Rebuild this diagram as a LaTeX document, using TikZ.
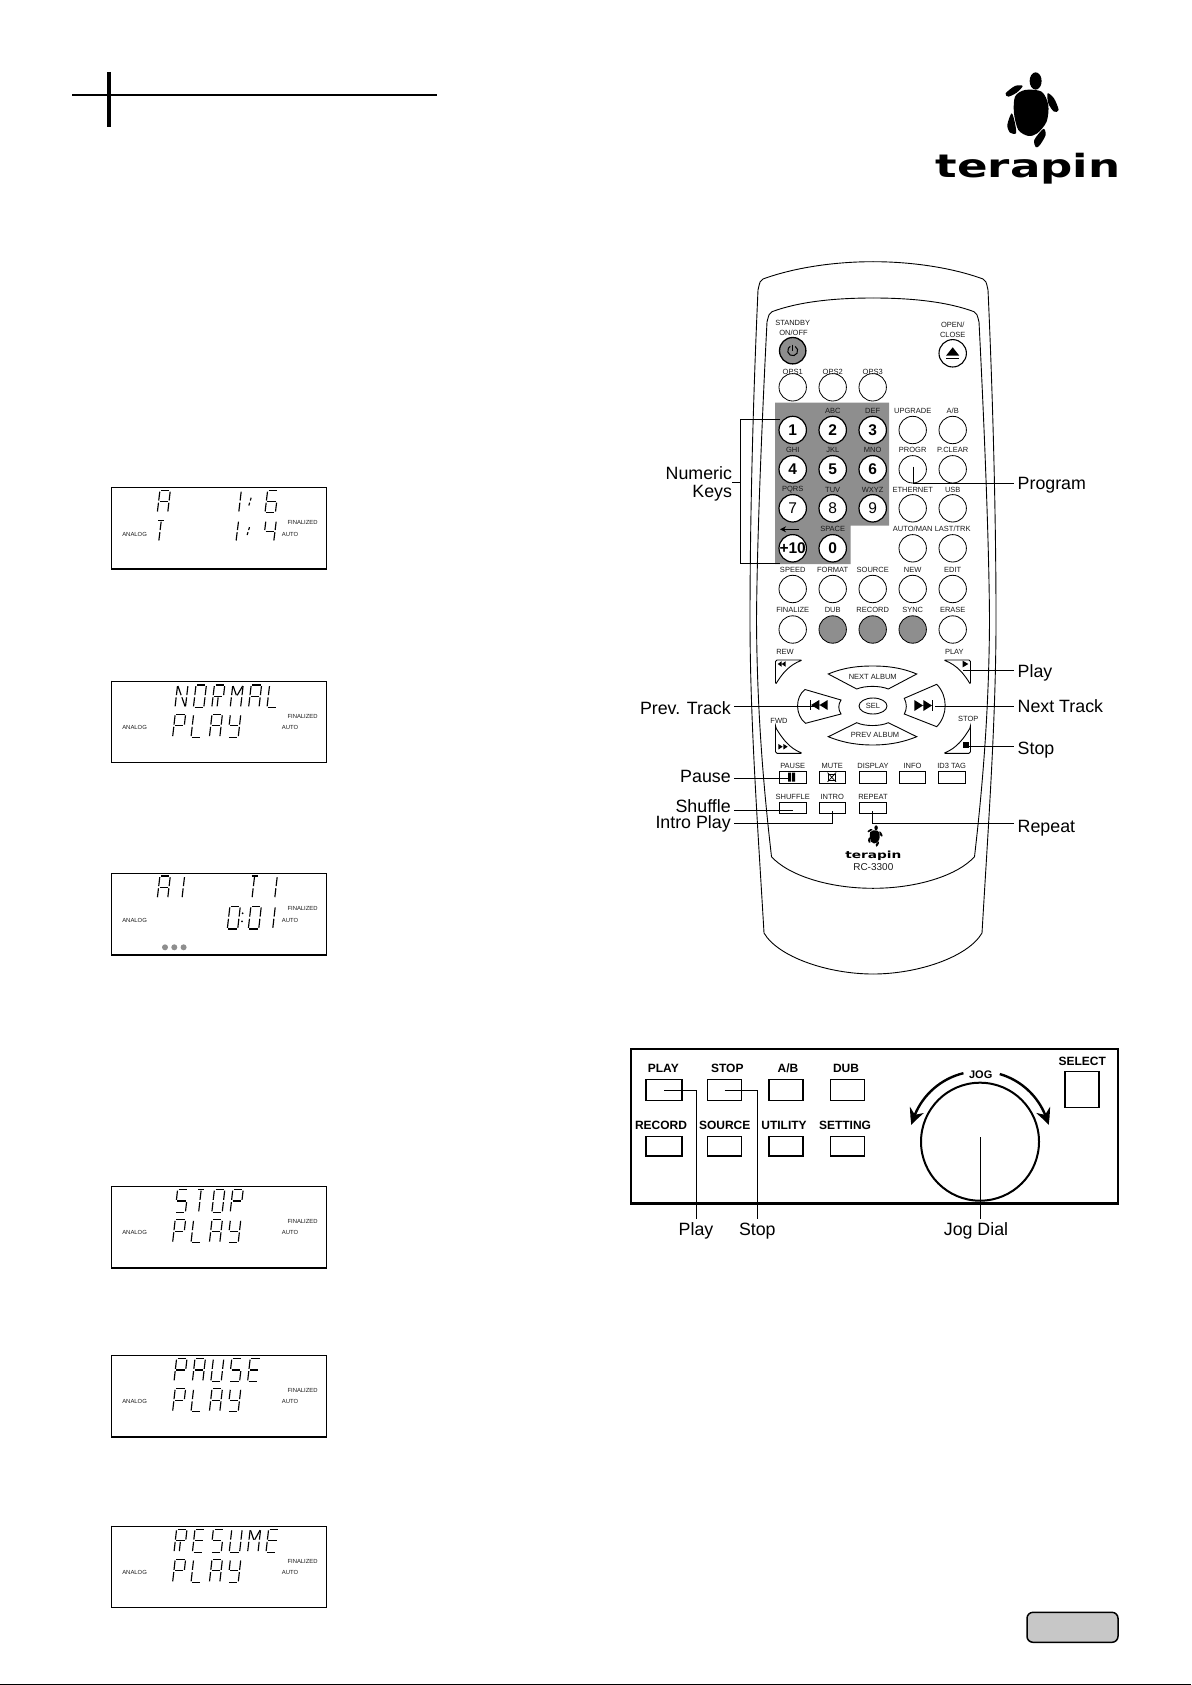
\documentclass[tikz,border=0pt]{standalone}
\usepackage{fontspec}
\setmainfont{Liberation Sans}
\newfontfamily\logofont{DejaVu Sans}
\usetikzlibrary{arrows.meta, calc, bending, shapes.geometric}

\definecolor{keygray}{HTML}{8E8E8E}
\definecolor{tagink}{HTML}{1A1A1A}

\tikzset{
  callout/.style={font=\fontsize{17.8}{20}\selectfont, inner sep=0pt, outer sep=3.5pt, text height=12.7pt, text depth=0pt},
  leader/.style={line width=0.9pt},
  rkey/.style={circle, draw, fill=white, line width=0.8pt, minimum size=27.4pt, inner sep=0pt},
  rdigit/.style={font=\fontsize{15.5}{16}\selectfont, inner sep=0pt},
  rtag/.style={font=\fontsize{7.5}{8}\selectfont, text=tagink, inner sep=0pt},
  rrect/.style={rectangle, draw, fill=white, line width=0.9pt, minimum width=26.7pt, inner sep=0pt},
  pkey/.style={rectangle, draw, line width=1.5pt, minimum width=34pt, inner sep=0pt},
  ptag/.style={font=\bfseries\fontsize{12}{12}\selectfont, inner sep=0pt},
  lcdbox/.style={rectangle, draw, line width=0.9pt, anchor=north west, minimum width=214.4pt, minimum height=81pt, inner sep=0pt},
  lcdtag/.style={font=\fontsize{5.9}{6}\selectfont, text=tagink, inner sep=0pt},
  lcdseg/.style={line width=1.15pt, shorten >=1.1pt, shorten <=1.1pt},
  turtle/.pic={
    \fill plot[smooth cycle] coordinates {(-10,-70) (40,-65) (60,-25) (55,25) (27,60) (0,68) (-30,50) (-43,0) (-40,-50)};
    \fill (22,-97) ellipse [x radius=18, y radius=26];
    \fill plot[smooth cycle] coordinates {(-68,-60) (-40,-82) (-17,-82) (-35,-62) (-60,-50)};
    \fill plot[smooth cycle] coordinates {(58,-60) (77,-45) (91,-10) (77,-5) (60,-30)};
    \fill plot[smooth cycle] coordinates {(-50,0) (-40,30) (-37,60) (-55,58) (-63,35)};
    \fill plot[smooth cycle] coordinates {(45,47) (52,65) (35,95) (23,102) (18,80)};
  }
}

% segments of the LCD letters
\newcommand{\segA}{TL/TR,TL/ML,TR/MR,ML/MR,ML/BL,MR/BR}
\newcommand{\segP}{TL/TR,TL/ML,TR/MR,ML/MR,ML/BL}
\newcommand{\segL}{TL/ML,ML/BL,BL/BR}
\newcommand{\segY}{TL/ML,TR/MR,ML/MR,MR/BR,BL/BR}
\newcommand{\segN}{TL/ML,ML/BL,TR/MR,MR/BR,TL/MM,MM/BR}
\newcommand{\segO}{TL/TR,TL/ML,ML/BL,BL/BR,BR/MR,MR/TR}
\newcommand{\segR}{TL/TR,TL/ML,TR/MR,ML/MR,ML/BL,MM/BM}
\newcommand{\segM}{TL/ML,ML/BL,TR/MR,MR/BR,TL/MM,TR/MM}
\newcommand{\segS}{TL/TR,TL/ML,ML/MR,MR/BR,BL/BR}
\newcommand{\segE}{TL/TR,TL/ML,ML/MR,ML/BL,BL/BR}
\newcommand{\segU}{TL/ML,ML/BL,BL/BR,BR/MR,MR/TR}
\newcommand{\segT}{TA/TB,TM/MM,MM/BM}
\newcommand{\segone}{TM/MM,MM/BM}
\newcommand{\segslash}{QU/MM,MM/QL}
\newcommand{\segsix}{TL/TR,TL/ML,ML/MR,ML/BL,BL/BR,BR/MR}
\newcommand{\segfour}{TL/ML,ML/MR,TR/MR,MR/BR}

\newcommand{\lcdrow}[4]{%
  \foreach \g [count=\gi from 0] in {#4} {
    \begin{scope}[shift={({#1+18.4*\gi},#2)}]
      \coordinate (TL) at (2.6,0); \coordinate (TM) at (7.8,0); \coordinate (TR) at (13,0);
      \coordinate (TA) at (3.6,0); \coordinate (TB) at (12,0);
      \coordinate (ML) at (1.3,#3/2); \coordinate (MM) at (6.5,#3/2); \coordinate (MR) at (11.7,#3/2);
      \coordinate (BL) at (0,#3); \coordinate (BM) at (5.2,#3); \coordinate (BR) at (10.4,#3);
      \coordinate (QU) at (8,#3/2-5); \coordinate (QL) at (5,#3/2+5);
      \edef\seglist{\csname seg\g\endcsname}
      \foreach \segfrom/\segto in \seglist {\draw[lcdseg] (\segfrom) -- (\segto);}
    \end{scope}
  }
}

\newcommand{\lcdframe}[2]{%
  \node[lcdbox] (lcd#1) at (111.3,#2) {};
  \draw[line width=1.6pt] (lcd#1.south west) -- (lcd#1.south east);
  \draw[line width=1.2pt] (lcd#1.north west) -- (lcd#1.south west);
  \node[lcdtag] (ana#1) at (134.6,#2+46.8) {ANALOG};
  \node[lcdtag] (fin#1) at (302.6,#2+35.5) {FINALIZED};
  \node[lcdtag] (aut#1) at (290,#2+46.8) {AUTO};
}

% key row: name, key y, tag y, then x/tag/digit
\newcommand{\btnrow}[5][]{%
  \foreach \bx/\bt/\bd [count=\bi] in {#5} {
    \node[rkey, #1, label={[rdigit]center:\bd}] (k#2\bi) at (\bx,#3) {};
    \node[rtag] (t#2\bi) at (\bx,#4) {\bt};
  }
}

\begin{document}
\begin{tikzpicture}[x=1pt, y=-1pt]
\useasboundingbox (0,0) rectangle (1191,1685);

% Page marks
\draw[line width=2pt] (72,94.7) -- (437,94.7);
\draw[line width=4pt] (109,72) -- (109,126.7);
\draw[line width=1.4pt] (0,1684.3) -- (1191,1684.3);
\node[rectangle, rounded corners=6pt, draw, fill=black!22, line width=1.5pt, minimum width=91pt, minimum height=30pt, inner sep=0pt] (pagetab) at (1072.5,1627.3) {};

% Logo
\pic[scale=0.333] at (1028.3,113.3) {turtle};
\node[anchor=base, inner sep=0pt, font=\logofont\bfseries\fontsize{32}{32}\selectfont] (logomain) at (1028,178) {\scalebox{1.41}[1]{terapin}};

% LCD frames
\lcdframe{a}{487.3}
\lcdrow{157.3}{490.6}{22}{A}
\lcdrow{233.5}{490.6}{22}{one}
\lcdrow{243.5}{490.6}{22}{slash}
\lcdrow{265}{490.6}{22}{six}
\lcdrow{153.5}{520.6}{21}{T}
\lcdrow{230.8}{520.6}{21}{one}
\lcdrow{241.8}{520.6}{21}{slash}
\lcdrow{263.3}{520.6}{21}{four}

\lcdframe{b}{680.7}
\lcdrow{175}{685}{22.4}{N,O,R,M,A,L}
\lcdrow{172.6}{714.2}{23}{P,L,A,Y}

\lcdframe{c}{873.3}
\lcdrow{157.3}{876}{22.3}{A}
\lcdrow{176.8}{876}{22.3}{one}
\lcdrow{246.8}{876}{22.3}{T}
\lcdrow{269.5}{876}{22.3}{one}
\lcdrow{227.3}{906.3}{22.7}{O}
\lcdrow{248.3}{906.3}{22.7}{O}
\lcdrow{267.5}{906.3}{22.7}{one}
\fill (242.6,913.3) circle (1pt) (242,921.3) circle (1pt);
\foreach \dx in {165,174.3,183.6} {\fill[keygray] (\dx,947.3) circle (3pt);}

\lcdframe{d}{1186}
\lcdrow{175}{1189.5}{23}{S,T,O,P}
\lcdrow{172.6}{1219.7}{23}{P,L,A,Y}

\lcdframe{e}{1355}
\lcdrow{174}{1358.5}{23}{P,A,U,S,E}
\lcdrow{172.6}{1388.7}{23}{P,L,A,Y}

\lcdframe{f}{1525.7}
\lcdrow{174}{1529.2}{23}{R,E,S,U,M,E}
\lcdrow{172.6}{1559.4}{23}{P,L,A,Y}

% Remote body
\foreach \m in {1,-1} {
  \begin{scope}[shift={(873,0)}, xscale=\m]
    \draw[line width=0.9pt] (0,261.7) .. controls (-40,261.7) and (-80,268) .. (-110,279)
      .. controls (-113,281) .. (-115,290) .. controls (-120,400) and (-123,520) .. (-123,620)
      .. controls (-123,720) and (-115,830) .. (-109,933) .. controls (-95,957) and (-45,974) .. (0,974);
    \draw[line width=0.9pt] (0,298) .. controls (-40,298) and (-75,302) .. (-101,311.7)
      .. controls (-104,314) .. (-106,322) .. controls (-111,420) and (-116,540) .. (-116.5,620)
      .. controls (-116,720) and (-108,800) .. (-101.5,856.7) .. controls (-85,875) and (-45,888.3) .. (0,888.3);
    % REW, PLAY and FWD, STOP corners
    \draw[line width=0.9pt, rounded corners=1.5pt] (-97.5,684.5) -- (-97.5,660) -- (-70.5,660)
      .. controls (-84,665) and (-91,674) .. cycle;
    \draw[line width=0.9pt, rounded corners=1.5pt] (-97.5,727.3) -- (-97.5,753.3) -- (-70.5,753.3)
      .. controls (-84,748) and (-91,738) .. cycle;
  \end{scope}
}

% Numeric block
\fill[keygray] (775,402.7) -- (889,402.7) -- (889,525.7) -- (850.7,525.7) -- (850.7,564) -- (775,564) -- cycle;

% Keys
\node[rkey, fill=keygray, line width=1.3pt, minimum size=26.4pt] (kpower) at (792.7,350.7) {};
\node[rkey, line width=1.1pt] (keject) at (952.7,353.3) {};
\node[rtag] (tstandby) at (792.7,322.7) {STANDBY};
\node[rtag] (tonoff) at (793.5,333.3) {ON/OFF};
\node[rtag] (topen) at (952.7,325) {OPEN/};
\node[rtag] (tclose) at (952.7,335) {CLOSE};
\draw[line width=1pt] (795.2,346.4) arc[start angle=-60, end angle=240, radius=5];
\draw[line width=1pt] (792.7,344.5) -- (792.7,351);
\fill (952.7,347.3) -- (959.3,355.7) -- (946,355.7) -- cycle;
\fill (946,357.6) rectangle (959.3,359.4);

\btnrow{o}{387.3}{371.7}{792.7/OPS1/{},832.7/OPS2/{},872.7/OPS3/{}}
\btnrow[line width=1.2pt]{n}{430}{410.7}{792.7/{}/\textbf{1},832.7/ABC/\textbf{2},872.7/DEF/\textbf{3}}
\btnrow{u}{430}{410.7}{912.7/UPGRADE/{},952.7/{A/B}/{}}
\btnrow[line width=1.2pt]{m}{469.3}{449.5}{792.7/GHI/\textbf{4},832.7/JKL/\textbf{5},872.7/MNO/\textbf{6}}
\btnrow{p}{469.3}{449.5}{912.7/PROGR/{},952.7/P.CLEAR/{}}
\btnrow[line width=1.2pt]{q}{508.3}{490}{792.7/PQRS/7,832.7/TUV/8,872.7/WXYZ/9}
\btnrow{e}{508.3}{490}{912.7/ETHERNET/{},952.7/USB/{}}
\btnrow[line width=1.2pt]{z}{548.3}{529}{792.7/{}/\textbf{+10},832.7/SPACE/\textbf{0}}
\btnrow{a}{548.3}{529}{912.7/{AUTO/MAN}/{},952.7/{LAST/TRK}/{}}
\btnrow{s}{589}{570}{792.7/SPEED/{},832.7/FORMAT/{},872.7/SOURCE/{},912.7/NEW/{},952.7/EDIT/{}}
\btnrow{f}{629.5}{610}{792.7/FINALIZE/{},952.7/ERASE/{}}
\btnrow[fill=keygray]{g}{629.5}{610}{832.7/DUB/{},872.7/RECORD/{},912.7/SYNC/{}}
\coordinate (backtail) at (798.7,529.3);
\coordinate (backtip) at (780,529.3);
\draw[line width=1.2pt, -{Stealth[length=6pt,width=6pt]}] (backtail) -- (backtip);

% Transport keys
\node[rtag] (trew) at (785,651.7) {REW};
\node[rtag] (tplay) at (954.3,652.3) {PLAY};
\node[rtag] (tfwd) at (779,720.7) {FWD};
\node[rtag] (tstop) at (968.3,719.3) {STOP};
\draw[line width=0.9pt] (828.3,674) .. controls (845,667) and (860,666) .. (872.7,666)
  .. controls (885,666) and (900,667) .. (916.7,674) -- (888.3,689)
  .. controls (880,685.5) and (865,685.5) .. (856.7,689) -- cycle;
\node[rtag] (tnext) at (872.7,676.7) {NEXT ALBUM};
\draw[line width=0.9pt] (828.3,736.7) .. controls (845,743.5) and (860,745) .. (872.7,745)
  .. controls (885,745) and (900,743.5) .. (916.7,736.7) -- (888.3,722.7)
  .. controls (880,726.5) and (865,726.5) .. (856.7,722.7) -- cycle;
\node[rtag] (tprev) at (875,735) {PREV ALBUM};
\draw[line width=0.9pt] (805,689.5) -- (841,700) .. controls (838,705) and (838,709) .. (841,714)
  -- (805.5,723.3) .. controls (795,715) and (795,697) .. cycle;
\draw[line width=0.9pt] (936.7,684.3) -- (904.3,698.3) .. controls (907,704) and (907,709) .. (904.3,714)
  -- (936.7,726.7) .. controls (948,715) and (948,696) .. cycle;
\node[ellipse, draw, line width=0.9pt, minimum width=28pt, minimum height=16pt, inner sep=0pt, font=\fontsize{7.5}{8}\selectfont, text=tagink] (ksel) at (873,706) {SEL};
\fill (777.7,664) -- (781.7,661.2) -- (781.7,666.8) -- cycle (781.7,664) -- (785.7,661.2) -- (785.7,666.8) -- cycle;
\fill (962.7,660.7) -- (968.3,664) -- (962.7,667.3) -- cycle;
\fill (778.3,743.9) -- (782.7,746.7) -- (778.3,749.5) -- cycle (783.3,743.9) -- (787.7,746.7) -- (783.3,749.5) -- cycle;
\fill (962.7,741.7) rectangle (969,748.3);
\fill (811,705) -- (819.3,700) -- (819.3,710) -- cycle (819.5,705) -- (827.7,700) -- (827.7,710) -- cycle;
\fill (809.6,700) rectangle (810.6,710);
\fill (914.3,700) -- (923,705.5) -- (914.3,711) -- cycle (923.3,700) -- (932,705.5) -- (923.3,711) -- cycle;
\fill (932.4,700) rectangle (933.4,711);

% Small keys
\foreach \bx/\bt [count=\bi] in {792.7/PAUSE,832.3/MUTE,873/DISPLAY,912.5/INFO,951.7/ID3 TAG} {
  \node[rrect, minimum height=12.3pt] (r\bi) at (\bx,777.2) {};
  \node[rtag] (tr\bi) at (\bx,766) {\bt};
}
\foreach \bx/\bt [count=\bi] in {792.7/SHUFFLE,832.3/INTRO,873/REPEAT} {
  \node[rrect, minimum height=11.4pt] (s\bi) at (\bx,808) {};
  \node[rtag] (ts\bi) at (\bx,797) {\bt};
}
\fill (788,772.7) rectangle (791,781.7) (792,772.7) rectangle (795,781.7);
\draw[line width=0.6pt] (828.5,774.5) rectangle (835,780.5);
\draw[line width=0.7pt] (827.5,772.5) -- (836,782) (836,772.5) -- (827.5,782);

% Small logo
\pic[scale=0.095] at (874,837) {turtle};
\node[anchor=base, inner sep=0pt, font=\logofont\bfseries\fontsize{9.85}{10}\selectfont] (logosmall) at (873.3,858.3) {\scalebox{1.39}[1]{terapin}};
\node[inner sep=0pt, font=\fontsize{10}{10}\selectfont, text=tagink] (tmodel) at (873.3,866.7) {RC-3300};

% Callouts left
\node[inner sep=0pt, outer sep=0pt, anchor=east, align=right, font=\fontsize{17.8}{17.7}\selectfont] (lnumeric) at (732,484) {Numeric\\Keys};
\node[callout, anchor=east] (lprev) at (734.2,708) {Prev. Track};
\node[callout, anchor=east] (lpause) at (734.2,775.7) {Pause};
\node[callout, anchor=east] (lshuffle) at (734.2,806) {Shuffle};
\node[callout, anchor=east] (lintro) at (734.2,821.7) {Intro Play};

% Callouts right
\node[callout, anchor=west] (lprog) at (1014.2,483) {Program};
\node[callout, anchor=west] (lplay) at (1014.2,670.7) {Play};
\node[callout, anchor=west] (lnext) at (1014.2,705.7) {Next Track};
\node[callout, anchor=west] (lstop) at (1014.2,747.7) {Stop};
\node[callout, anchor=west] (lrepeat) at (1014.2,825.7) {Repeat};

% Leaders
\coordinate (nbrail) at (740.7,482.7);
\coordinate (nbtop) at (780,419);
\coordinate (nbbot) at (780,563.3);
\draw[leader] (nbtop) -| (nbrail) |- (nbbot);
\draw[leader] (lnumeric.east |- nbrail) -- (nbrail);
\coordinate (eprog) at (913,466.7);
\coordinate (eprev) at (815,706.7);
\coordinate (epause) at (788,778.7);
\coordinate (eshuffle) at (792.7,810);
\coordinate (eintro) at (832.7,810.7);
\coordinate (erepeat) at (872.7,810.7);
\coordinate (eplay) at (963,670.3);
\coordinate (enext) at (935,706.7);
\coordinate (estop) at (968,746);
\draw[leader] (eprog) |- (lprog.west);
\draw[leader] (lprev.east |- eprev) -- (eprev);
\draw[leader] (lpause.east |- epause) -- (epause);
\draw[leader] (lshuffle.east |- eshuffle) -- (eshuffle);
\draw[leader] (lintro.east |- 0,823.7) -| (eintro);
\draw[leader] (lrepeat.west |- 0,823.7) -| (erepeat);
\draw[leader] (eplay) -- (lplay.west |- eplay);
\draw[leader] (enext) -- (lnext.west |- enext);
\draw[leader] (estop) -- (lstop.west |- estop);

% Front panel
\node[rectangle, draw, line width=2.4pt, anchor=north west, minimum width=487pt, minimum height=154.3pt, inner sep=0pt] (panel) at (630,1048) {};
\node[pkey, minimum width=36pt, minimum height=21.4pt] (pplay) at (664,1090) {};
\node[pkey, minimum height=21.4pt] (pstop) at (724.7,1090) {};
\node[pkey, minimum height=21.4pt] (pab) at (786.2,1090) {};
\node[pkey, minimum height=21.4pt] (pdub) at (847.5,1090) {};
\node[pkey, minimum width=36pt, minimum height=19.3pt] (precord) at (664,1146.3) {};
\node[pkey, minimum height=19.3pt] (psource) at (724.7,1146.3) {};
\node[pkey, minimum height=19.3pt] (putility) at (786.2,1146.3) {};
\node[pkey, minimum height=19.3pt] (psetting) at (847.5,1146.3) {};
\foreach \tagx/\tagy/\tagt [count=\ti] in {663.3/1068.3/PLAY,727.3/1068.3/STOP,788/1068.3/{A/B},846/1068.3/DUB,661/1125.7/RECORD,724.7/1125.7/SOURCE,784/1125.7/UTILITY,845/1125.7/SETTING,1082.3/1061/SELECT} {
  \node[ptag] (ptag\ti) at (\tagx,\tagy) {\tagt};
}
\node[pkey, minimum width=34pt, minimum height=35.6pt] (pselect) at (1082,1089.5) {};
\node[circle, draw, line width=2pt, minimum size=118pt, inner sep=0pt] (jogdial) at (980,1141.7) {};
\node[ptag, font=\bfseries\fontsize{11}{11}\selectfont] (pjog) at (980.7,1074.3) {JOG};
\draw[line width=2.4pt, -{Stealth[length=16pt,width=15pt,bend]}] (jogdial.center) ++(-103.6:70.5) arc[start angle=-103.6, end angle=-166.3, radius=70.5];
\draw[line width=2.4pt, -{Stealth[length=16pt,width=15pt,bend]}] (jogdial.center) ++(-73.7:70.5) arc[start angle=-73.7, end angle=-13.7, radius=70.5];

\node[callout] (lpplay) at (696,1229) {Play};
\node[callout] (lpstop) at (757.3,1229) {Stop};
\node[callout] (lpjog) at (976,1229) {Jog Dial};
\coordinate (jogstart) at (980,1137);
\draw[leader] (pplay.center) -| (lpplay.north);
\draw[leader] (pstop.center) -| (lpstop.north);
\draw[leader] (jogstart) -- (jogstart |- lpjog.north);

\end{tikzpicture}
\end{document}
